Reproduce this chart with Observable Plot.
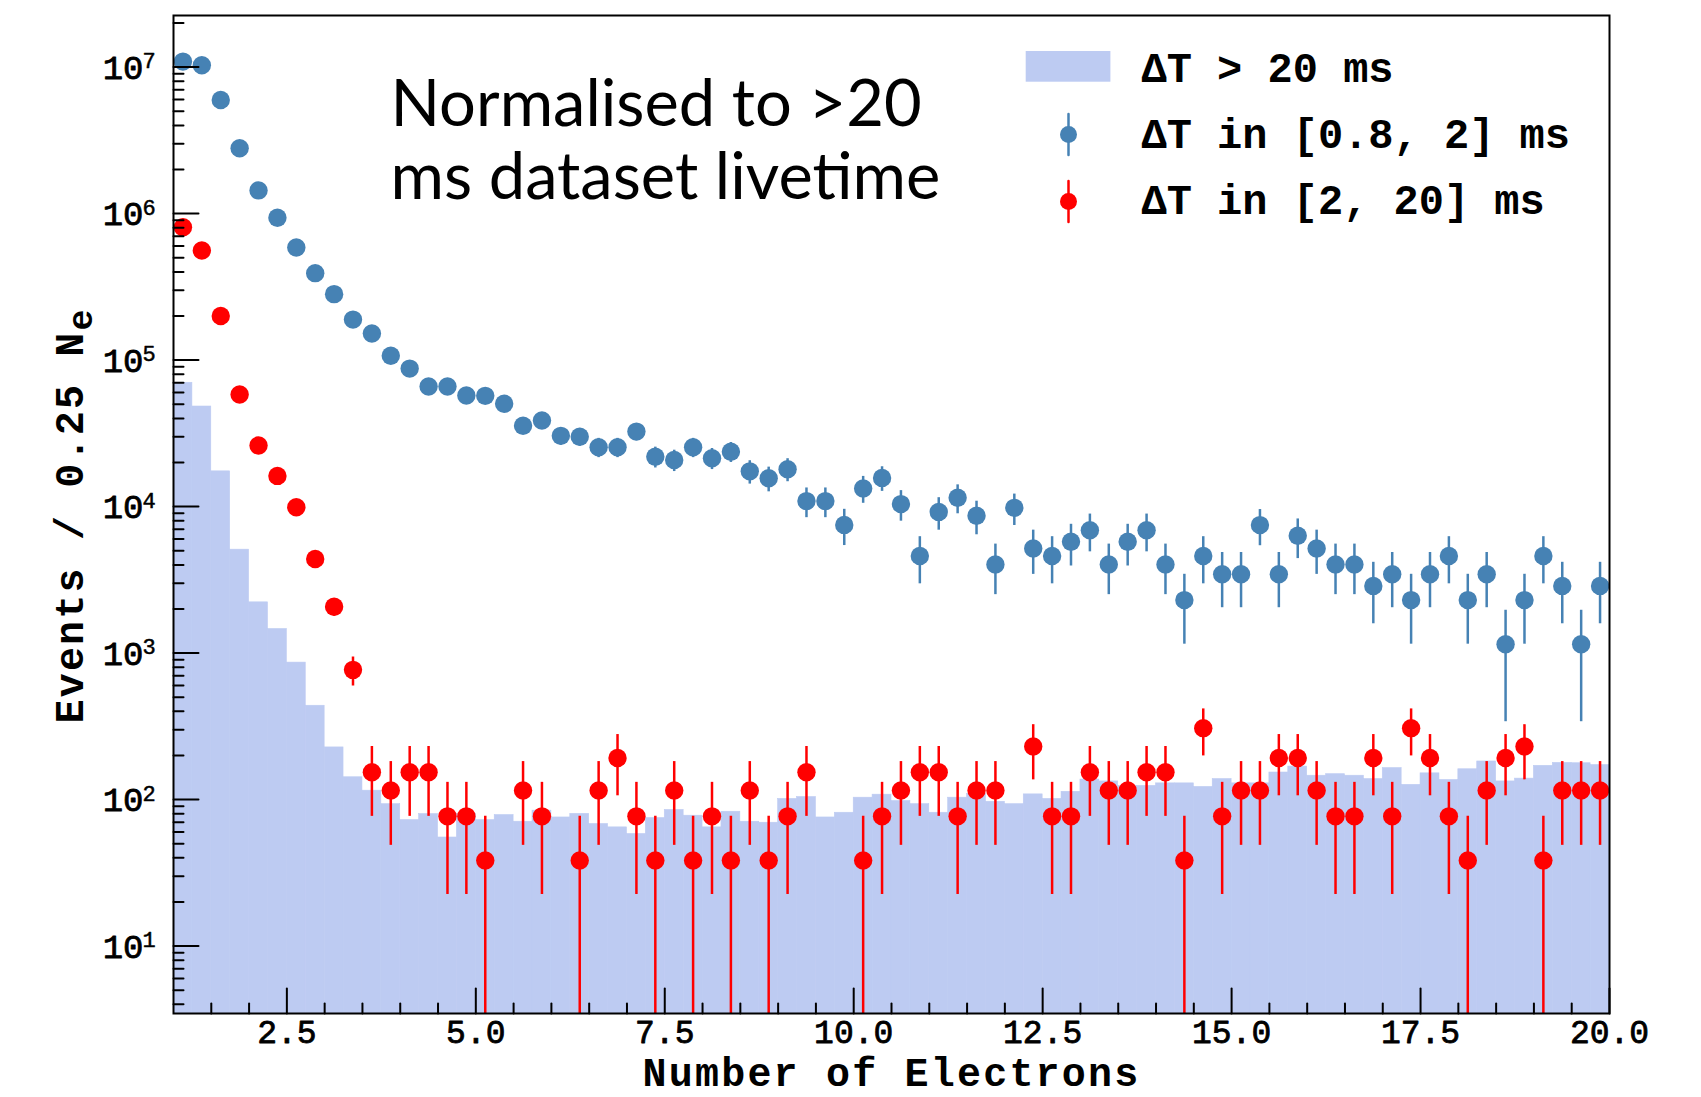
<!DOCTYPE html>
<html>
<head>
<meta charset="utf-8">
<script src="https://cdn.jsdelivr.net/npm/d3@7"></script>
<script src="https://cdn.jsdelivr.net/npm/@observablehq/plot@0.6"></script>
<style>
  html, body { margin: 0; padding: 0; background: #ffffff; }
  #chart { width: 1701px; height: 1097px; }
  #chart g[font-size="40"] { letter-spacing: 2.2px; }
</style>
</head>
<body>
<div id="chart"></div>
<script>
// ---- data (bins of 0.25 electrons from 1.0 to 20.0) ----
const binStart = 1.0;
const binWidth = 0.25;

// ΔT > 20 ms histogram (events / 0.25 Ne)
const histLong = [
  70000, 48200, 17400, 5080, 2220, 1460, 861, 437, 227, 142,
  115, 93, 72.4, 79.6, 55.1, 79.6, 72.4, 78.4, 70.6, 84,
  75.5, 79.9, 68.1, 64.6, 58.2, 74.8, 84.9, 77.6, 64.6, 82.6,
  70.6, 69.5, 101, 104, 75.5, 81.3, 103, 108, 97.7, 93,
  81.3, 103, 109, 96.6, 93, 108.5, 101, 113, 137, 133,
  124, 124, 129, 129, 122, 138, 129, 129, 153, 168,
  145.5, 149, 145.5, 138, 164, 126, 151, 136, 161, 182,
  133, 139, 170, 178, 177, 172
];

// ΔT in [0.8, 2] ms
const blueVals = [
  10900000, 10300000, 5960000, 2790000, 1440000, 936000, 587000, 392000, 282000, 189000,
  152000, 107000, 87500, 66000, 66000, 57300, 57000, 50300, 35600, 38700,
  30400, 30000, 25400, 25400, 32500, 21900, 20800, 25400, 21400, 23700,
  17400, 15600, 18000, 10900, 10900, 7500, 13300, 15700, 10400, 4600,
  9200, 11500, 8650, 4025, 9800, 5175, 4600, 5750, 6900, 4025,
  5750, 6900, 4025, 2300, 4600, 3450, 3450, 7475, 3450, 6325,
  5175, 4025, 4025, 2875, 3450, 2300, 3450, 4600, 2300, 3450,
  1150, 2300, 4600, 2875, 1150, 2875
];
const blueErr = [
  79000, 77000, 58500, 40000, 28800, 23200, 18400, 15000, 12700, 10400,
  9350, 7840, 7090, 6160, 6160, 5740, 5720, 5380, 4520, 4720,
  4180, 4150, 3820, 3820, 4320, 3550, 3460, 3820, 3510, 3690,
  3160, 2990, 3220, 2500, 2500, 2080, 2770, 3000, 2450, 1630,
  2300, 2570, 2230, 1520, 2370, 1730, 1630, 1820, 1990, 1520,
  1820, 1990, 1520, 1150, 1630, 1410, 1410, 2070, 1410, 1910,
  1730, 1520, 1520, 1290, 1410, 1150, 1410, 1630, 1150, 1410,
  810, 1150, 1630, 1290, 810, 1290
];

// ΔT in [2, 20] ms (null = empty bin)
const redVals = [
  808000, 560000, 200000, 58200, 26100, 16200, 9900, 4390, 2070, 768,
  153.6, 115.2, 153.6, 153.6, 76.8, 76.8, 38.4, null, 115.2, 76.8,
  null, 38.4, 115.2, 192, 76.8, 38.4, 115.2, 38.4, 76.8, 38.4,
  115.2, 38.4, 76.8, 153.6, null, null, 38.4, 76.8, 115.2, 153.6,
  153.6, 76.8, 115.2, 115.2, null, 230.4, 76.8, 76.8, 153.6, 115.2,
  115.2, 153.6, 153.6, 38.4, 307.2, 76.8, 115.2, 115.2, 192, 192,
  115.2, 76.8, 76.8, 192, 76.8, 307.2, 192, 76.8, 38.4, 115.2,
  192, 230.4, 38.4, 115.2, 115.2, 115.2
];
const redErr = [
  5570, 4640, 2770, 1495, 1000, 789, 617, 411, 282, 172,
  76.8, 66.5, 76.8, 76.8, 54.3, 54.3, 38.4, null, 66.5, 54.3,
  null, 38.4, 66.5, 85.9, 54.3, 38.4, 66.5, 38.4, 54.3, 38.4,
  66.5, 38.4, 54.3, 76.8, null, null, 38.4, 54.3, 66.5, 76.8,
  76.8, 54.3, 66.5, 66.5, null, 94.1, 54.3, 54.3, 76.8, 66.5,
  66.5, 76.8, 76.8, 38.4, 108.6, 54.3, 66.5, 66.5, 85.9, 85.9,
  66.5, 54.3, 54.3, 85.9, 54.3, 108.6, 85.9, 54.3, 38.4, 66.5,
  85.9, 94.1, 38.4, 66.5, 66.5, 66.5
];

// ---- axes / text ----
const xDomain = [1, 20];
const yDomain = [3.465, 2.25e7];
const xMajor = [2.5, 5, 7.5, 10, 12.5, 15, 17.5, 20];
const xMajorLabels = ["2.5", "5.0", "7.5", "10.0", "12.5", "15.0", "17.5", "20.0"];
const yMajor = [10, 100, 1e3, 1e4, 1e5, 1e6, 1e7];
const yExp = ["1", "2", "3", "4", "5", "6", "7"];
const xTitle = "Number of Electrons";
const yTitle = "Events / 0.25 N";
const ySub = "e";
const legendLabels = ["ΔT > 20 ms", "ΔT in [0.8, 2] ms", "ΔT in [2, 20] ms"];
const annotation = "Normalised to >20\nms dataset livetime";
const colHist = "#bdcbf2", colBlue = "#4682b4", colRed = "#ff0000";

// ---- derived tables ----
const bins = histLong.map((h, i) => ({
  x1: binStart + i * binWidth,
  x2: binStart + (i + 1) * binWidth,
  xc: binStart + (i + 0.5) * binWidth,
  h, b: blueVals[i], be: blueErr[i], r: redVals[i], re: redErr[i]
}));
const blueData = bins.filter(d => d.b != null);
const redData = bins.filter(d => d.r != null);
const xMinor = d3.range(1.5, 20, 0.5).filter(v => !xMajor.includes(v));
const yMinor = [];
for (let k = 0; k <= 7; k++) for (let m = 2; m <= 9; m++) {
  const v = m * Math.pow(10, k);
  if (v >= yDomain[0] && v <= yDomain[1]) yMinor.push(v);
}

const line = { draw(ctx, l) { ctx.moveTo(0, 0); ctx.lineTo(0, -l); } };
const mono = "Liberation Mono, DejaVu Sans Mono, monospace";

const ML = 173, MR = 92, MT = 15, MB = 84;

const chart = Plot.plot({
  width: 1701,
  height: 1097,
  marginLeft: ML, marginRight: MR, marginTop: MT, marginBottom: MB,
  style: { background: "#ffffff", overflow: "visible" },
  x: { domain: xDomain, axis: null },
  y: { type: "log", domain: yDomain, axis: null },
  marks: [
    // histogram ΔT > 20 ms
    Plot.rect(bins, { x1: "x1", x2: "x2", y1: () => 1, y2: "h", fill: colHist, stroke: colHist, strokeWidth: 0.6, clip: true }),
    // error bars
    Plot.ruleX(redData, { x: "xc", y1: d => Math.max(d.r - d.re, 1), y2: d => d.r + d.re, stroke: colRed, strokeWidth: 2.5, clip: true }),
    Plot.ruleX(blueData, { x: "xc", y1: d => d.b - d.be, y2: d => d.b + d.be, stroke: colBlue, strokeWidth: 2.5, clip: true }),
    Plot.dot(blueData, { x: "xc", y: "b", r: 9.2, fill: colBlue, clip: true }),
    Plot.dot(redData, { x: "xc", y: "r", r: 9.2, fill: colRed, clip: true }),
    // inward ticks
    Plot.vector(xMajor, { x: d => d, frameAnchor: "bottom", length: 25, rotate: 0, anchor: "start", shape: line, stroke: "black", strokeWidth: 2 }),
    Plot.vector(xMinor, { x: d => d, frameAnchor: "bottom", length: 10, rotate: 0, anchor: "start", shape: line, stroke: "black", strokeWidth: 2 }),
    Plot.vector(yMajor, { y: d => d, frameAnchor: "left", length: 25, rotate: 90, anchor: "start", shape: line, stroke: "black", strokeWidth: 2 }),
    Plot.vector(yMinor, { y: d => d, frameAnchor: "left", length: 10, rotate: 90, anchor: "start", shape: line, stroke: "black", strokeWidth: 2 }),
    Plot.frame({ stroke: "black", strokeWidth: 2 }),
    // tick labels
    Plot.text(xMajor, { x: d => d, text: (d, i) => xMajorLabels[i], frameAnchor: "bottom", dy: 29, lineAnchor: "bottom", fontSize: 33, fontFamily: mono, fill: "black", stroke: "black", strokeWidth: 0.8 }),
    Plot.text(yMajor, { y: d => d, text: () => "10", frameAnchor: "left", dx: -30, dy: 11.5, textAnchor: "end", lineAnchor: "bottom", fontSize: 34, fontFamily: mono, fill: "black", stroke: "black", strokeWidth: 0.8 }),
    Plot.text(yMajor, { y: d => d, text: (d, i) => yExp[i], frameAnchor: "left", dx: -31, dy: 1, textAnchor: "start", lineAnchor: "bottom", fontSize: 22, fontFamily: mono, fill: "black", stroke: "black", strokeWidth: 0.5 }),
    // axis titles
    Plot.text([xTitle], { frameAnchor: "bottom", dy: 72, lineAnchor: "bottom", fontSize: 40, fontWeight: "bold", fontFamily: mono, fill: "black" }),
    Plot.text([yTitle], { frameAnchor: "left", rotate: -90, dx: -91, dy: 209, textAnchor: "start", lineAnchor: "bottom", fontSize: 40, fontWeight: "bold", fontFamily: mono, fill: "black" }),
    Plot.text([ySub], { frameAnchor: "left", rotate: -90, dx: -82, dy: -184, textAnchor: "start", lineAnchor: "bottom", fontSize: 35, fontWeight: "bold", fontFamily: mono, fill: "black" }),
    // annotation
    Plot.text([annotation], { frameAnchor: "top-left", dx: 217, dy: 183, textAnchor: "start", lineAnchor: "bottom", fontSize: 65, lineHeight: 73 / 65, fontFamily: "Lato, Noto Sans, sans-serif", fill: "black" }),
    // legend
    Plot.rect([0], { insetLeft: 852.7, insetRight: 498.6, insetTop: 36, insetBottom: 931.3, fill: colHist }),
    Plot.vector([0], { frameAnchor: "top-left", dx: 895, dy: 119, length: 41, rotate: 0, anchor: "middle", shape: line, stroke: colBlue, strokeWidth: 2.5 }),
    Plot.dot([0], { frameAnchor: "top-left", dx: 895, dy: 119, r: 8.5, fill: colBlue }),
    Plot.vector([0], { frameAnchor: "top-left", dx: 895, dy: 186, length: 41, rotate: 0, anchor: "middle", shape: line, stroke: colRed, strokeWidth: 2.5 }),
    Plot.dot([0], { frameAnchor: "top-left", dx: 895, dy: 186, r: 8.5, fill: colRed }),
    ...legendLabels.map((t, i) => Plot.text([t], { frameAnchor: "top-left", dx: 968, dy: [66, 132, 198][i], textAnchor: "start", lineAnchor: "bottom", fontSize: 42, fontWeight: "bold", fontFamily: mono, fill: "black" }))
  ]
});
document.getElementById("chart").appendChild(chart);
</script>
</body>
</html>
